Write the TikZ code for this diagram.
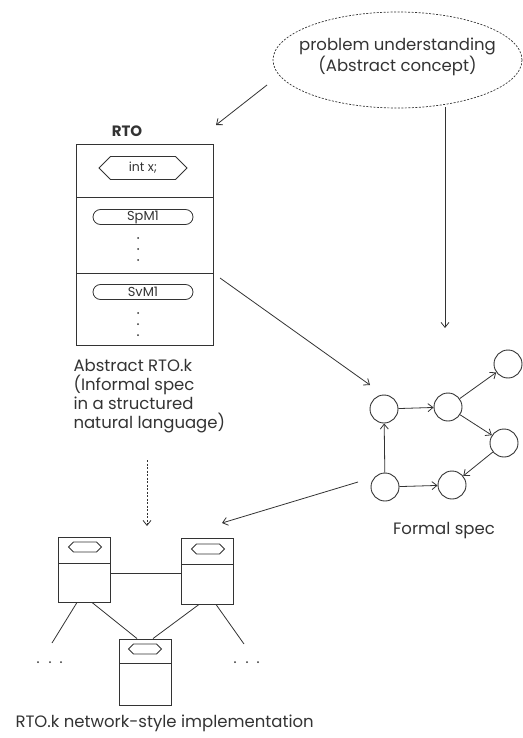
\documentclass[tikz,border=0pt]{standalone}
\usepackage{fontspec}
\setmainfont{Poppins}
\usetikzlibrary{arrows.meta,shapes.geometric,shapes.misc,shapes.symbols}

\definecolor{ink}{HTML}{333333}

\tikzset{
  every node/.style={text=ink},
  lbl/.style={font=\fontsize{16.5}{19}\selectfont},
  arr/.style={draw=ink, line width=0.8pt, -{Straight Barb[length=5pt,width=8pt]}},
  dashedarr/.style={arr, dash pattern=on 2pt off 1.5pt},
  part/.style={draw=ink, line width=0.9pt, rectangle, inner sep=0pt},
  hexa/.style={draw=ink, line width=0.8pt, signal, signal to=west and east, inner sep=0pt},
  pill/.style={draw=ink, line width=0.8pt, rounded rectangle, inner sep=0pt, font=\fontsize{13}{14}\selectfont},
  state/.style={draw=ink, line width=0.9pt, circle, minimum size=28pt, inner sep=0pt},
  dot/.style={fill=ink, circle, inner sep=0pt, minimum size=2pt},
  wire/.style={draw=ink, line width=0.8pt}
}

\begin{document}
\begin{tikzpicture}[x=1pt,y=-1pt]
\useasboundingbox (0,0) rectangle (522,738);

% problem understanding bubble
\node[draw=ink, line width=0.7pt, dash pattern=on 2pt off 1.5pt, ellipse,
      minimum width=249pt, minimum height=96pt] (idea) at (397.5,60) {};
\node[lbl, align=center] (ideatext) at (397.5,57) {problem understanding\\(Abstract concept)};

\coordinate (ideaL) at (267,85);
\coordinate (rtoIn) at (216,125);
\coordinate (ideaB) at (445,107);
\coordinate (specIn) at (445,328);
\draw[arr] (ideaL) -- (rtoIn);
\draw[arr] (ideaB) -- (specIn);

% abstract RTO object
\node[font=\fontsize{15}{16}\selectfont\bfseries] (rtotitle) at (127,131) {RTO};
\node[part, minimum width=137pt, minimum height=53pt] (rto1) at (144.5,170.5) {};
\node[part, minimum width=137pt, minimum height=76pt] (rto2) at (144.5,235) {};
\node[part, minimum width=137pt, minimum height=72pt] (rto3) at (144.5,309) {};

\node[hexa, minimum width=88pt, minimum height=23pt, font=\fontsize{12.5}{13}\selectfont] (intx) at (143,168) {int x;};
\node[pill, minimum width=100pt, minimum height=15pt] (spm) at (143,217) {SpM1};
\node[pill, minimum width=100pt, minimum height=15pt] (svm) at (143,292) {SvM1};
\foreach \y [count=\i] in {238,249,260} \node[dot] (spdot\i) at (138,\y) {};
\foreach \y [count=\i] in {313,324,335} \node[dot] (svdot\i) at (138,\y) {};

\node[lbl, align=left, anchor=north west] (rtotext) at (70,356)
  {Abstract RTO.k\\(Informal spec\\in a structured\\natural language)};

% formal specification graph
\node[state] (sA) at (384,409) {};
\node[state] (sB) at (448,407) {};
\node[state] (sC) at (508,364) {};
\node[state] (sD) at (504,443) {};
\node[state] (sE) at (385,487) {};
\node[state] (sF) at (452,485) {};
\draw[arr] (sA) -- (sB);
\draw[arr] (sB) -- (sC);
\draw[arr] (sB) -- (sD);
\draw[arr] (sD) -- (sF);
\draw[arr] (sE) -- (sA);
\draw[arr] (sE) -- (sF);
\node[lbl] (formal) at (444,531) {Formal spec};

\coordinate (rtoOut) at (220,278);
\coordinate (graphIn) at (370,385);
\draw[arr] (rtoOut) -- (graphIn);

\coordinate (graphOut) at (358,482);
\coordinate (netIn) at (222,523);
\draw[arr] (graphOut) -- (netIn);

\coordinate (refineA) at (147,460);
\coordinate (refineB) at (147,526);
\draw[dashedarr] (refineA) -- (refineB);

% network-style implementation
\node[part, minimum width=52pt, minimum height=26pt] (n1t) at (84,550) {};
\node[part, minimum width=52pt, minimum height=39pt] (n1b) at (84,582.5) {};
\node[hexa, minimum width=33pt, minimum height=10pt] (n1h) at (85,547) {};

\node[part, minimum width=52pt, minimum height=26pt] (n2t) at (207.5,551) {};
\node[part, minimum width=52pt, minimum height=40pt] (n2b) at (207.5,584) {};
\node[hexa, minimum width=33pt, minimum height=10pt] (n2h) at (208,549) {};

\node[part, minimum width=52pt, minimum height=24pt] (n3t) at (145,651) {};
\node[part, minimum width=52pt, minimum height=42pt] (n3b) at (145,684) {};
\node[hexa, minimum width=33pt, minimum height=10pt] (n3h) at (145,649) {};

\draw[wire] (n1b.east |- 0,573) -- (n2b.west |- 0,573);
\coordinate (n1leg) at (52,643);
\coordinate (n2leg) at (244,644);
\draw[wire] (n1b.south -| 77,0) -- (n1leg);
\draw[wire] (n1b.south -| 92,0) -- (n3t.north -| 137,0);
\draw[wire] (n2b.south -| 199,0) -- (n3t.north -| 153,0);
\draw[wire] (n2b.south -| 216,0) -- (n2leg);

\foreach \x [count=\i] in {38,50,61} \node[dot] (ldot\i) at (\x,662) {};
\foreach \x [count=\i] in {235,247,258} \node[dot] (rdot\i) at (\x,662) {};

\node[lbl, anchor=west] (impltext) at (12,723) {RTO.k network-style implementation};
\end{tikzpicture}
\end{document}
